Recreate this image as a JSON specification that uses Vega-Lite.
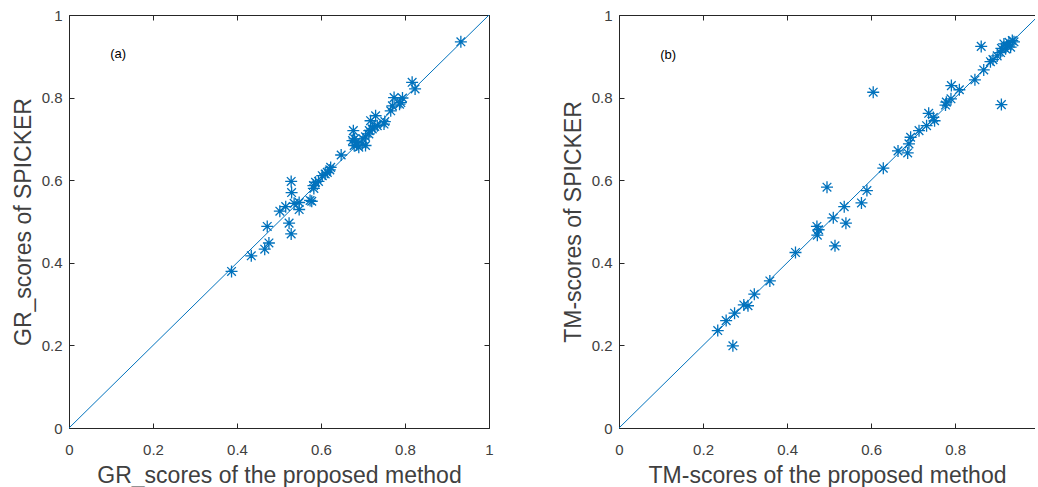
{
  "$schema": "https://vega.github.io/schema/vega-lite/v6.json",
  "background": "white",
  "padding": {"left": 12, "top": 8, "right": 0, "bottom": 8},
  "spacing": 68,
  "datasets": {
    "gr": [
      {"p": 0.387, "s": 0.379}, {"p": 0.434, "s": 0.417}, {"p": 0.466, "s": 0.433}, {"p": 0.476, "s": 0.448},
      {"p": 0.472, "s": 0.488}, {"p": 0.524, "s": 0.496}, {"p": 0.529, "s": 0.470}, {"p": 0.502, "s": 0.525},
      {"p": 0.516, "s": 0.536}, {"p": 0.530, "s": 0.570}, {"p": 0.529, "s": 0.597}, {"p": 0.536, "s": 0.544},
      {"p": 0.548, "s": 0.546}, {"p": 0.548, "s": 0.529}, {"p": 0.574, "s": 0.551}, {"p": 0.578, "s": 0.549},
      {"p": 0.582, "s": 0.587}, {"p": 0.587, "s": 0.595}, {"p": 0.583, "s": 0.580}, {"p": 0.594, "s": 0.597},
      {"p": 0.603, "s": 0.611}, {"p": 0.610, "s": 0.615}, {"p": 0.615, "s": 0.619}, {"p": 0.621, "s": 0.625},
      {"p": 0.623, "s": 0.631}, {"p": 0.648, "s": 0.661}, {"p": 0.677, "s": 0.720}, {"p": 0.675, "s": 0.696},
      {"p": 0.679, "s": 0.684}, {"p": 0.683, "s": 0.692}, {"p": 0.690, "s": 0.680}, {"p": 0.698, "s": 0.688},
      {"p": 0.706, "s": 0.684}, {"p": 0.706, "s": 0.705}, {"p": 0.714, "s": 0.712}, {"p": 0.718, "s": 0.744},
      {"p": 0.722, "s": 0.724}, {"p": 0.730, "s": 0.756}, {"p": 0.734, "s": 0.732}, {"p": 0.750, "s": 0.736},
      {"p": 0.752, "s": 0.742}, {"p": 0.766, "s": 0.768}, {"p": 0.774, "s": 0.800}, {"p": 0.770, "s": 0.780},
      {"p": 0.790, "s": 0.788}, {"p": 0.794, "s": 0.799}, {"p": 0.787, "s": 0.784}, {"p": 0.817, "s": 0.837},
      {"p": 0.824, "s": 0.821}, {"p": 0.933, "s": 0.935}, {"p": 0.680, "s": 0.700}, {"p": 0.685, "s": 0.685},
      {"p": 0.700, "s": 0.700}, {"p": 0.715, "s": 0.720}, {"p": 0.728, "s": 0.730}
    ],
    "tm": [
      {"p": 0.235, "s": 0.236}, {"p": 0.255, "s": 0.260}, {"p": 0.271, "s": 0.199}, {"p": 0.275, "s": 0.278},
      {"p": 0.297, "s": 0.298}, {"p": 0.307, "s": 0.296}, {"p": 0.322, "s": 0.324}, {"p": 0.359, "s": 0.356},
      {"p": 0.420, "s": 0.425}, {"p": 0.471, "s": 0.488}, {"p": 0.472, "s": 0.467}, {"p": 0.475, "s": 0.480},
      {"p": 0.495, "s": 0.583}, {"p": 0.510, "s": 0.509}, {"p": 0.514, "s": 0.441}, {"p": 0.536, "s": 0.536},
      {"p": 0.540, "s": 0.496}, {"p": 0.577, "s": 0.545}, {"p": 0.590, "s": 0.575}, {"p": 0.605, "s": 0.813},
      {"p": 0.629, "s": 0.629}, {"p": 0.664, "s": 0.671}, {"p": 0.687, "s": 0.666}, {"p": 0.690, "s": 0.688},
      {"p": 0.694, "s": 0.704}, {"p": 0.714, "s": 0.720}, {"p": 0.732, "s": 0.732}, {"p": 0.737, "s": 0.762},
      {"p": 0.748, "s": 0.752}, {"p": 0.751, "s": 0.744}, {"p": 0.777, "s": 0.782}, {"p": 0.779, "s": 0.789},
      {"p": 0.790, "s": 0.797}, {"p": 0.791, "s": 0.829}, {"p": 0.810, "s": 0.819}, {"p": 0.847, "s": 0.843},
      {"p": 0.862, "s": 0.924}, {"p": 0.868, "s": 0.867}, {"p": 0.884, "s": 0.887}, {"p": 0.890, "s": 0.892},
      {"p": 0.900, "s": 0.901}, {"p": 0.908, "s": 0.909}, {"p": 0.910, "s": 0.783}, {"p": 0.910, "s": 0.919},
      {"p": 0.916, "s": 0.930}, {"p": 0.920, "s": 0.918}, {"p": 0.924, "s": 0.925}, {"p": 0.928, "s": 0.934},
      {"p": 0.932, "s": 0.922}, {"p": 0.936, "s": 0.938}, {"p": 0.940, "s": 0.935}
    ],
    "diag": [{"p": 0, "s": 0}, {"p": 1, "s": 1}],
    "labA": [{"p": 0.098, "s": 0.905, "t": "(a)"}],
    "labB": [{"p": 0.098, "s": 0.903, "t": "(b)"}]
  },
  "hconcat": [
    {
      "width": 420,
      "height": 413,
      "resolve": {"axis": {"x": "independent", "y": "independent"}},
      "layer": [
        {
          "data": {"name": "gr"},
          "mark": {"type": "point", "shape": "M-1,0L1,0M0,-1L0,1M-0.72,-0.72L0.72,0.72M-0.72,0.72L0.72,-0.72", "filled": false, "size": 144, "strokeWidth": 1.3, "color": "#0072BD", "opacity": 1},
          "encoding": {
            "x": {"field": "p", "type": "quantitative", "scale": {"domain": [0, 1], "nice": false}, "axis": {"orient": "bottom", "title": "GR_scores of the proposed method", "values": [0, 0.2, 0.4, 0.6, 0.8, 1], "format": "~g", "labelFontSize": 15, "labelPadding": 19, "titlePadding": 7}},
            "y": {"field": "s", "type": "quantitative", "scale": {"domain": [0, 1], "nice": false}, "axis": {"orient": "left", "title": "GR_scores of SPICKER", "values": [0, 0.2, 0.4, 0.6, 0.8, 1], "format": "~g", "labelFontSize": 15, "labelPadding": 12, "titlePadding": 6}}
          }
        },
        {
          "data": {"name": "diag"},
          "mark": {"type": "line", "stroke": "#0072BD", "strokeWidth": 1, "clip": true},
          "encoding": {
            "x": {"field": "p", "type": "quantitative", "axis": {"orient": "top", "labels": false, "title": null, "values": [0, 0.2, 0.4, 0.6, 0.8, 1]}},
            "y": {"field": "s", "type": "quantitative", "axis": {"orient": "right", "labels": false, "title": null, "values": [0, 0.2, 0.4, 0.6, 0.8, 1]}}
          }
        },
        {
          "data": {"name": "labA"},
          "mark": {"type": "text", "align": "left", "baseline": "middle", "fontSize": 13, "font": "Liberation Sans", "color": "#000000"},
          "encoding": {
            "x": {"field": "p", "type": "quantitative", "axis": null},
            "y": {"field": "s", "type": "quantitative", "axis": null},
            "text": {"field": "t"}
          }
        }
      ]
    },
    {
      "width": 416,
      "height": 413,
      "resolve": {"axis": {"x": "independent", "y": "independent"}},
      "layer": [
        {
          "data": {"name": "tm"},
          "mark": {"type": "point", "shape": "M-1,0L1,0M0,-1L0,1M-0.72,-0.72L0.72,0.72M-0.72,0.72L0.72,-0.72", "filled": false, "size": 144, "strokeWidth": 1.3, "color": "#0072BD", "opacity": 1},
          "encoding": {
            "x": {"field": "p", "type": "quantitative", "scale": {"domain": [0, 0.99], "nice": false}, "axis": {"orient": "bottom", "title": "TM-scores of the proposed method", "values": [0, 0.2, 0.4, 0.6, 0.8], "format": "~g", "labelFontSize": 15, "labelPadding": 19, "titlePadding": 7}},
            "y": {"field": "s", "type": "quantitative", "scale": {"domain": [0, 1], "nice": false}, "axis": {"orient": "left", "title": "TM-scores of SPICKER", "values": [0, 0.2, 0.4, 0.6, 0.8, 1], "format": "~g", "labelFontSize": 15, "labelPadding": 12, "titlePadding": 6}}
          }
        },
        {
          "data": {"name": "diag"},
          "mark": {"type": "line", "stroke": "#0072BD", "strokeWidth": 1, "clip": true},
          "encoding": {
            "x": {"field": "p", "type": "quantitative", "axis": {"orient": "top", "labels": false, "title": null, "values": [0, 0.2, 0.4, 0.6, 0.8]}},
            "y": {"field": "s", "type": "quantitative", "axis": null}
          }
        },
        {
          "data": {"name": "labB"},
          "mark": {"type": "text", "align": "left", "baseline": "middle", "fontSize": 13, "font": "Liberation Sans", "color": "#000000"},
          "encoding": {
            "x": {"field": "p", "type": "quantitative", "axis": null},
            "y": {"field": "s", "type": "quantitative", "axis": null},
            "text": {"field": "t"}
          }
        }
      ]
    }
  ],
  "config": {
    "view": {"stroke": null},
    "axis": {
      "grid": false,
      "domain": true,
      "domainColor": "#262626",
      "domainWidth": 1,
      "tickColor": "#262626",
      "tickSize": -5,
      "tickWidth": 1,
      "labelFont": "Liberation Sans",
      "labelFontSize": 15,
      "labelColor": "#404040",
      "labelFlush": false,
      "labelOverlap": false,
      "titleFont": "Liberation Sans",
      "titleFontSize": 23,
      "titleFontWeight": "normal",
      "titleColor": "#404040"
    }
  }
}
